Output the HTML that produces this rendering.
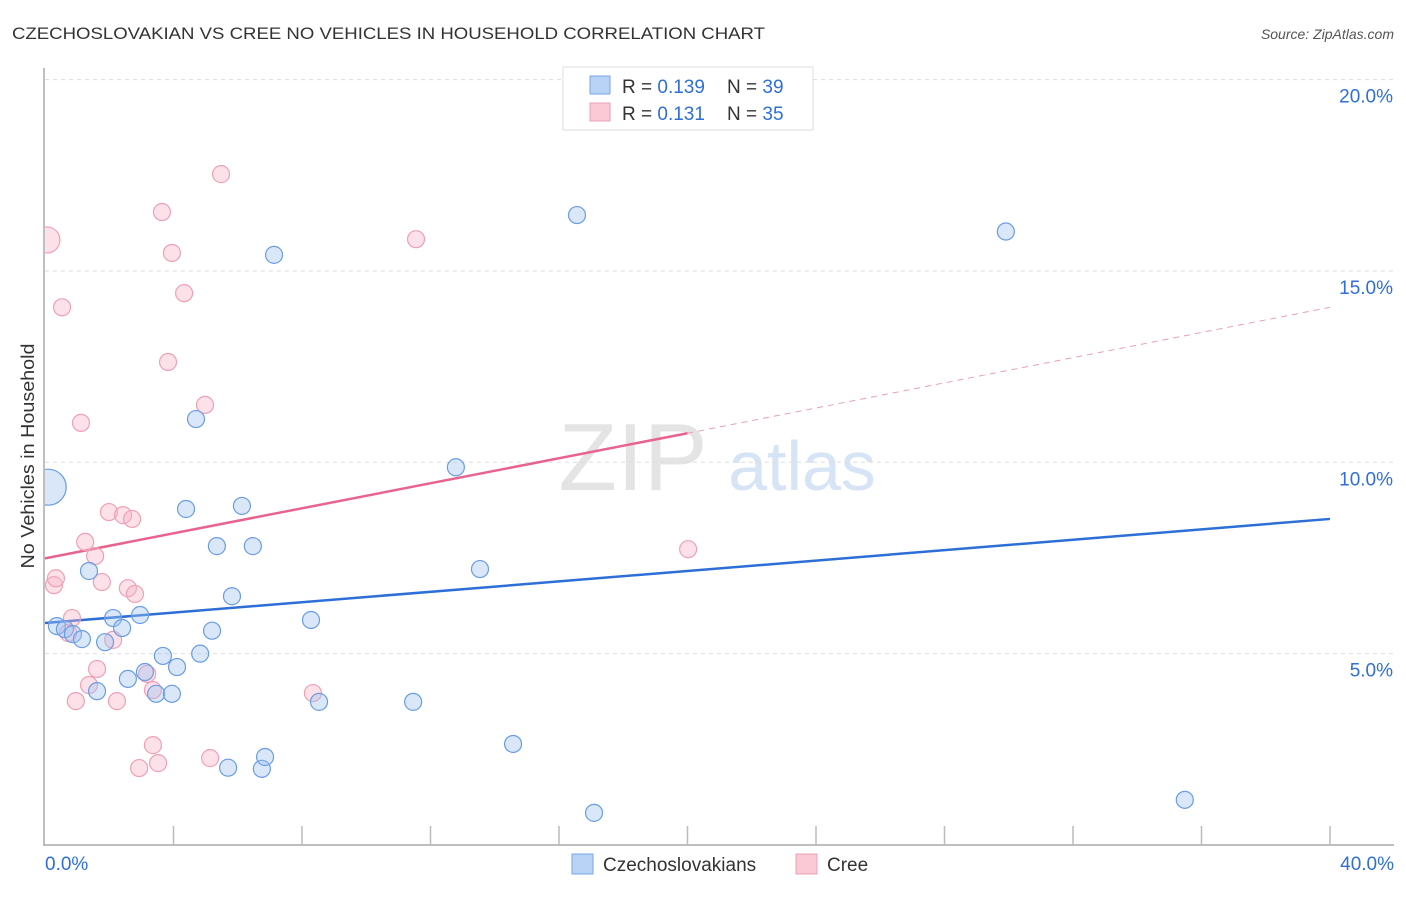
<!DOCTYPE html>
<html><head><meta charset="utf-8">
<style>
body{margin:0;background:#fff;font-family:"Liberation Sans",sans-serif;}
svg text{font-family:"Liberation Sans",sans-serif;}
</style></head>
<body>
<svg id="chart" width="1406" height="892">
<defs><clipPath id="plotclip"><rect x="45" y="60" width="1360" height="790"/></clipPath></defs>
<text x="12" y="39" font-size="17" fill="#333" textLength="753" lengthAdjust="spacingAndGlyphs">CZECHOSLOVAKIAN VS CREE NO VEHICLES IN HOUSEHOLD CORRELATION CHART</text>
<text x="1394" y="39" font-size="14" fill="#555" font-style="italic" text-anchor="end">Source: ZipAtlas.com</text>
<text transform="translate(34,456) rotate(-90)" font-size="18" fill="#333" text-anchor="middle" textLength="225" lengthAdjust="spacingAndGlyphs">No Vehicles in Household</text>
<g>
<text x="633" y="490" font-size="96" fill="#e4e4e4" font-family="Liberation Serif" text-anchor="middle">ZIP</text>
<text x="802" y="490" font-size="70" fill="#d6e4f5" text-anchor="middle">atlas</text>
</g>
<g id="grid"></g>
<g id="axes"></g>
<g id="lines"></g>
<g id="points" clip-path="url(#plotclip)"></g>
<g>
<rect x="563" y="67" width="250" height="63" fill="#fff" stroke="#ddd"/>
<rect x="590" y="76" width="20" height="18" fill="#b8d3f5" stroke="#7aa6e6"/>
<rect x="590" y="103" width="20" height="18" fill="#fbc8d6" stroke="#eea0b6"/>
<text x="622" y="93" font-size="19" fill="#333">R = <tspan fill="#2f6fd6">0.139</tspan></text>
<text x="727" y="93" font-size="19" fill="#333">N = <tspan fill="#2f6fd6">39</tspan></text>
<text x="622" y="120" font-size="19" fill="#333">R = <tspan fill="#2f6fd6"> 0.131</tspan></text>
<text x="727" y="120" font-size="19" fill="#333">N = <tspan fill="#2f6fd6">35</tspan></text>
</g>
<g>
<rect x="572" y="854" width="21" height="20" fill="#b8d3f5" stroke="#7aa6e6"/>
<text x="603" y="871" font-size="19" fill="#333">Czechoslovakians</text>
<rect x="796" y="854" width="21" height="20" fill="#fbc8d6" stroke="#eea0b6"/>
<text x="827" y="871" font-size="19" fill="#333">Cree</text>
</g>
</svg>
<script>
const yTicks=[5,10,15,20];
const yTickLabels=["5.0%","10.0%","15.0%","20.0%"];
const xEnds=["0.0%","40.0%"];
const blueX=[0.37,0.62,0.87,1.15,1.62,1.37,1.87,2.12,2.4,2.58,2.96,3.11,3.46,3.67,3.95,4.11,4.39,4.7,4.83,5.2,5.35,5.7,5.82,6.13,6.47,6.75,6.85,7.13,8.28,8.53,11.46,12.79,13.54,14.57,16.56,17.09,29.91,35.48,0.1];
const blueY=[5.72,5.64,5.51,5.38,4.02,7.16,5.3,5.93,5.67,4.34,6.01,4.52,3.95,4.94,3.95,4.65,8.78,11.13,5.0,5.6,7.81,2.02,6.5,8.86,7.81,1.99,2.3,15.42,5.88,3.74,3.74,9.87,7.21,2.64,16.46,0.84,16.03,1.18,9.35];
const pinkX=[0.06,0.28,0.34,0.53,0.72,0.84,0.96,1.12,1.25,1.37,1.56,1.62,1.77,1.99,2.12,2.24,2.43,2.58,2.71,2.8,2.93,3.18,3.36,3.36,3.52,3.64,3.83,3.95,4.33,4.98,5.14,5.48,8.34,11.55,20.02];
const pinkY=[15.81,6.79,6.97,14.05,5.54,5.93,3.76,11.03,7.92,4.18,7.55,4.6,6.87,8.7,5.36,3.76,8.62,6.71,8.52,6.56,2.01,4.47,2.61,4.05,2.14,16.54,12.62,15.47,14.42,11.5,2.27,17.53,3.97,15.83,7.73];
const blueLine=[[0,5.8],[40,8.52]];
const pinkLine=[[0,7.49],[20,10.76],[40,14.05]];
const ns="http://www.w3.org/2000/svg";
const X=v=>45+v*32.125, Y=v=>845-v*38.27;
function mk(tag,attrs,parent){const e=document.createElementNS(ns,tag);for(const k in attrs)e.setAttribute(k,attrs[k]);parent.appendChild(e);return e;}
const grid=document.getElementById('grid'),axes=document.getElementById('axes'),lines=document.getElementById('lines'),pts=document.getElementById('points');
yTicks.forEach((t,i)=>{
 const l=mk('line',{x1:45,x2:1394,y1:Y(t),y2:Y(t),stroke:'#ddd','stroke-dasharray':'4,4'},grid);
 
 
 const tx=mk('text',{x:1393,y:Y(t)+23,'font-size':19,fill:'#2f6fd6','text-anchor':'end'},grid);
 tx.textContent=yTickLabels[i];
 
 
});
let a=mk('line',{x1:44,x2:44,y1:68,y2:846,stroke:'#aaa','stroke-width':1.5},axes);


a=mk('line',{x1:44,x2:1394,y1:845,y2:845,stroke:'#aaa','stroke-width':1.5},axes);


for(let i=1;i<=10;i++){const x=45+i*128.5;const t=mk('line',{x1:x,x2:x,y1:826,y2:845,stroke:'#bbb','stroke-width':1.5},axes);
 
 }
let t0=mk('text',{x:45,y:870,'font-size':19,fill:'#2f6fd6'},axes);t0.textContent=xEnds[0];


let t1=mk('text',{x:1394,y:870,'font-size':19,fill:'#2f6fd6','text-anchor':'end'},axes);t1.textContent=xEnds[1];


function dot(x,y,r,fill,stroke,name){const c=mk('circle',{cx:X(x),cy:Y(y),r:r,fill:fill,stroke:stroke,'stroke-width':1.2},pts);
 
 }
pinkX.forEach((x,i)=>dot(x,pinkY[i],i===0?13:8.5,'rgba(248,180,200,0.4)','#eea0b6','cree-point'));
blueX.forEach((x,i)=>dot(x,blueY[i],i===blueX.length-1?18:8.5,'rgba(160,196,240,0.4)','#6a9de4','czechoslovakian-point'));
let bl=mk('line',{x1:X(blueLine[0][0]),y1:Y(blueLine[0][1]),x2:X(blueLine[1][0]),y2:Y(blueLine[1][1]),stroke:'#2d6fd6','stroke-width':2.5},lines);


let pl=mk('line',{x1:X(pinkLine[0][0]),y1:Y(pinkLine[0][1]),x2:X(pinkLine[1][0]),y2:Y(pinkLine[1][1]),stroke:'#e8648e','stroke-width':2.5},lines);


let pd=mk('line',{x1:X(pinkLine[1][0]),y1:Y(pinkLine[1][1]),x2:X(pinkLine[2][0]),y2:Y(pinkLine[2][1]),stroke:'#e8a0b6','stroke-width':1,'stroke-dasharray':'6,5'},lines);


</script>
</body></html>
